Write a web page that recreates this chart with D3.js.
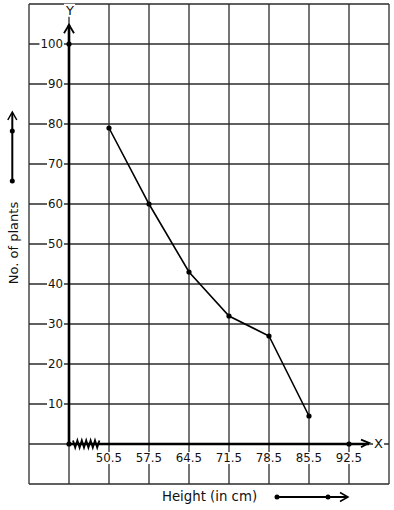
<!DOCTYPE html>
<html lang="en">
<head>
  <meta charset="UTF-8" />
  <title>Height vs No. of plants</title>
  <script src="https://d3js.org/d3.v7.min.js"></script>
  <style>
    body {
      margin: 0;
      background: #fff;
    }

    svg text {
      font-family: "DejaVu Sans", sans-serif;
      fill: #111;
    }

    .grid line {
      stroke: #2b2b2b;
      stroke-width: 1.3;
    }
  </style>
</head>
<body>
  <div id="chart"></div>
  <script>
    // Data
    const heights = [50.5, 57.5, 64.5, 71.5, 78.5, 85.5];
    const plants = [79, 60, 43, 32, 27, 7];
    const xTicks = [50.5, 57.5, 64.5, 71.5, 78.5, 85.5, 92.5];
    const yTicks = [10, 20, 30, 40, 50, 60, 70, 80, 90, 100];

    const width = 394, height = 510;
    const xOrigin = 43.5; // value where the broken x axis starts
    const xEnd = 96, yEnd = 104.8; // arrow tips

    const svg = d3.select("#chart").append("svg")
      .attr("width", width)
      .attr("height", height);

    // one grid square = 7 cm across, 10 plants up
    const x = d3.scaleLinear().domain([36.5, 99.5]).range([29, 389]);
    const y = d3.scaleLinear().domain([-10, 110]).range([484, 4]);

    // grid
    const grid = svg.append("g").attr("class", "grid");
    grid.selectAll(".vx")
      .data(d3.range(36.5, 100, 7))
      .enter().append("line")
      .attr("x1", d => x(d)).attr("x2", d => x(d))
      .attr("y1", y(110)).attr("y2", y(-10));
    grid.selectAll(".hy")
      .data(d3.range(-10, 111, 10))
      .enter().append("line")
      .attr("x1", x(36.5)).attr("x2", x(99.5))
      .attr("y1", d => y(d)).attr("y2", d => y(d));

    // labels with white boxes behind them
    function boxedText(g, attrs, txt) {
      const t = g.append("text");
      Object.entries(attrs).forEach(([k, v]) => t.attr(k, v));
      t.text(txt);
      const b = t.node().getBBox();
      g.insert("rect", () => t.node())
        .attr("x", b.x - 1).attr("y", b.y + 1)
        .attr("width", b.width + 2).attr("height", b.height - 2)
        .attr("fill", "#fff");
      return t;
    }

    const yLab = svg.append("g");
    yTicks.forEach(v => {
      boxedText(yLab, {
        x: x(xOrigin) - 6, y: y(v) + 4.3,
        "text-anchor": "end", "font-size": "11.8px"
      }, v);
    });

    const xLab = svg.append("g");
    xTicks.forEach(v => {
      boxedText(xLab, {
        x: x(v), y: y(0) + 18,
        "text-anchor": "middle", "font-size": "11.8px"
      }, v);
    });

    // axes (thick, with arrows)
    const axisStroke = "#000";
    svg.append("line")
      .attr("x1", x(xOrigin)).attr("x2", x(xOrigin))
      .attr("y1", y(0)).attr("y2", y(yEnd))
      .attr("stroke", axisStroke).attr("stroke-width", 2.6);
    svg.append("path")
      .attr("d", `M${x(xOrigin) - 5},${y(yEnd - 2.1)} L${x(xOrigin)},${y(yEnd)} L${x(xOrigin) + 5},${y(yEnd - 2.1)}`)
      .attr("fill", "none").attr("stroke", axisStroke).attr("stroke-width", 1.8);

    svg.append("line")
      .attr("x1", x(xOrigin)).attr("x2", x(xEnd))
      .attr("y1", y(0)).attr("y2", y(0))
      .attr("stroke", axisStroke).attr("stroke-width", 2.6);
    svg.append("path")
      .attr("d", `M${x(xEnd - 1.4)},${y(1.1)} L${x(xEnd)},${y(0.3)} L${x(xEnd - 1.4)},${y(-0.8)}`)
      .attr("fill", "none").attr("stroke", axisStroke).attr("stroke-width", 1.8);

    boxedText(svg, { x: x(xOrigin) + 1, y: y(107.3), "text-anchor": "middle", "font-size": "13px" }, "Y");
    boxedText(svg, { x: x(xEnd) + 9.5, y: y(-1.1), "text-anchor": "middle", "font-size": "13px" }, "X");

    // axis break zigzag
    const zz = d3.range(0, 13).map(i => [x(xOrigin) + 4 + i * 2.2, y(0) + (i % 2 ? 3.6 : -3.6)]);
    svg.append("path")
      .attr("d", d3.line()(zz))
      .attr("fill", "none").attr("stroke", "#000").attr("stroke-width", 1.8);

    // axis dots
    [[xOrigin, 0], [xOrigin, 100], [92.5, 0]].forEach(([a, b]) => {
      svg.append("circle").attr("cx", x(a)).attr("cy", y(b)).attr("r", 2.6).attr("fill", "#000");
    });

    // data line
    const pts = heights.map((h, i) => [h, plants[i]]);
    svg.append("path")
      .datum(pts)
      .attr("d", d3.line().x(d => x(d[0])).y(d => y(d[1])))
      .attr("fill", "none").attr("stroke", "#000").attr("stroke-width", 1.6);
    svg.selectAll(".pt")
      .data(pts)
      .enter().append("circle")
      .attr("cx", d => x(d[0])).attr("cy", d => y(d[1]))
      .attr("r", 2.6).attr("fill", "#000");

    // axis titles with arrows
    svg.append("text")
      .attr("x", 209.5).attr("y", 500.5)
      .attr("text-anchor", "middle").attr("font-size", "13.3px")
      .text("Height (in cm)");
    svg.append("line")
      .attr("x1", 277).attr("x2", 347).attr("y1", 497).attr("y2", 497)
      .attr("stroke", "#000").attr("stroke-width", 2);
    svg.append("path")
      .attr("d", "M340,492.5 L348,497 L340,501.5")
      .attr("fill", "none").attr("stroke", "#000").attr("stroke-width", 1.5);
    [277, 328].forEach(cx => svg.append("circle").attr("cx", cx).attr("cy", 497).attr("r", 2.5).attr("fill", "#000"));

    svg.append("text")
      .attr("transform", "translate(17.5,243) rotate(-90)")
      .attr("text-anchor", "middle").attr("font-size", "13px")
      .text("No. of plants");
    svg.append("line")
      .attr("x1", 12.3).attr("x2", 12.3).attr("y1", 181).attr("y2", 113)
      .attr("stroke", "#000").attr("stroke-width", 2);
    svg.append("path")
      .attr("d", "M7.8,120 L12.3,112 L16.8,120")
      .attr("fill", "none").attr("stroke", "#000").attr("stroke-width", 1.5);
    [181, 131].forEach(cy => svg.append("circle").attr("cx", 12.3).attr("cy", cy).attr("r", 2.5).attr("fill", "#000"));
  </script>
</body>
</html>
